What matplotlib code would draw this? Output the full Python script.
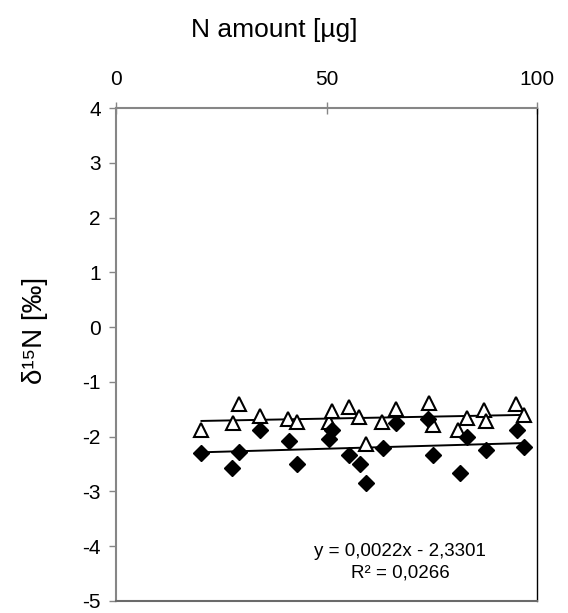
import numpy as np
import matplotlib
matplotlib.use("Agg")
import matplotlib.pyplot as plt

plt.rcParams['font.family'] = ['Liberation Sans', 'DejaVu Sans']
plt.rcParams['axes.unicode_minus'] = False

# Open triangles series
tri_x = [20.3, 27.8, 29.2, 34.2, 40.9, 43.1, 50.6, 51.4, 55.3, 57.8, 59.5,
         63.3, 66.6, 74.4, 75.3, 81.3, 83.3, 87.5, 87.9, 95.0, 96.9]
tri_y = [-1.88, -1.75, -1.40, -1.63, -1.67, -1.74, -1.74, -1.54, -1.46, -1.64, -2.13,
         -1.74, -1.49, -1.38, -1.78, -1.88, -1.66, -1.52, -1.71, -1.40, -1.60]

# Filled diamonds series
dia_x = [20.3, 27.6, 29.2, 34.2, 41.0, 42.9, 50.7, 51.2, 55.4, 58.0,
         59.4, 63.4, 66.6, 74.1, 75.3, 81.7, 83.3, 87.9, 95.2, 96.8]
dia_y = [-2.29, -2.58, -2.28, -1.87, -2.07, -2.50, -2.05, -1.87, -2.33, -2.49,
         -2.85, -2.21, -1.75, -1.67, -2.33, -2.66, -2.01, -2.25, -1.88, -2.19]

# Trend line of diamonds (as printed)
dia_slope = 0.0022
dia_intercept = -2.3301
eq_text = "y = 0,0022x - 2,3301"
r2_text = "R² = 0,0266"

x_ticks = [0, 50, 100]
y_ticks = [-5, -4, -3, -2, -1, 0, 1, 2, 3, 4]

W, H = 568, 613
L, R, T, B = 116, 537, 108, 601

fig = plt.figure(figsize=(W/100, H/100), dpi=100)
ax = fig.add_axes([L/W, 1 - B/H, (R-L)/W, (B-T)/H])

ax.plot(tri_x, tri_y, linestyle='none', marker='^', markersize=10.5,
        markerfacecolor='white', markeredgecolor='black', markeredgewidth=1.5, zorder=3)
ax.plot(dia_x, dia_y, linestyle='none', marker='D', markersize=8.5,
        markerfacecolor='black', markeredgecolor='black', zorder=3)

# trend lines
tx = np.array([min(tri_x), max(tri_x)])
p = np.polyfit(tri_x, tri_y, 1)
ax.plot(tx, np.polyval(p, tx), color='black', lw=1.4, zorder=2)
dx = np.array([min(dia_x), max(dia_x)])
ax.plot(dx, dia_slope * dx + dia_intercept, color='black', lw=1.4, zorder=2)

ax.set_xlim(0, 100)
ax.set_ylim(-5, 4)
ax.set_xticks(x_ticks)
ax.set_yticks(y_ticks)
ax.xaxis.tick_top()
ax.tick_params(axis='x', direction='inout', length=8, width=1, color='#868686',
               labelsize=15, pad=10)
ax.tick_params(axis='y', direction='out', length=5, width=1, color='#868686',
               labelsize=15, pad=6)

for s in ['top', 'left']:
    ax.spines[s].set_color('#868686')
    ax.spines[s].set_linewidth(1.5)
ax.spines['right'].set_color('black')
ax.spines['right'].set_linewidth(1.0)
ax.spines['bottom'].set_color('#6a6a6a')
ax.spines['bottom'].set_linewidth(1.5)

fig.text(274/W, 1 - 30/H, 'N amount [µg]', fontsize=19, ha='center', va='center')
ax.set_ylabel('δ¹⁵N [‰]', fontsize=20)
ax.yaxis.set_label_coords((48 - L) / (R - L), (B - 330) / (B - T))

ax.text((400 - L) / (R - L), (B - 552) / (B - T), eq_text, transform=ax.transAxes,
        ha='center', va='center', fontsize=13.5)
ax.text((400 - L) / (R - L), (B - 573) / (B - T), r2_text, transform=ax.transAxes,
        ha='center', va='center', fontsize=13.5)

fig.savefig('out.png', dpi=100)
